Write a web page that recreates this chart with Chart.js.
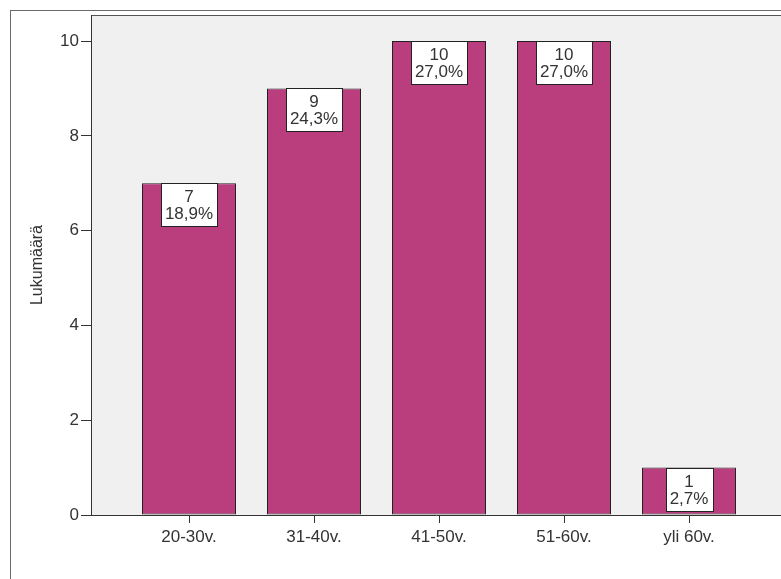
<!DOCTYPE html>
<html>
<head>
<meta charset="utf-8">
<script src="https://cdn.jsdelivr.net/npm/chart.js@4.4.1/dist/chart.umd.min.js"></script>
<style>
html, body { margin: 0; padding: 0; background: #fff; }
#wrap { width: 781px; height: 579px; }
</style>
</head>
<body>
<div id="wrap"><canvas id="ikaryhmat"></canvas></div>
<script>
// ikäryhmät, lukumäärät ja prosentit kuvasta
const ryhmat = ['20-30v.', '31-40v.', '41-50v.', '51-60v.', 'yli 60v.']
const lukumaarat = [7, 9, 10, 10, 1]
const prosentit = [18.9, 24.3, 27.0, 27.0, 2.7]
const yTicks = [0, 2, 4, 6, 8, 10]

const fontti = 'Arial, "Liberation Sans", sans-serif'
const tekstiVari = '#333'

// kehys ja harmaa tausta
const tausta = {
    id: 'tausta',
    beforeDraw(chart) {
        const ctx = chart.ctx
        const a = chart.chartArea
        ctx.save()
        ctx.fillStyle = '#fff'
        ctx.fillRect(0, 0, chart.width, chart.height)
        ctx.strokeStyle = '#6a6a6a'
        ctx.lineWidth = 1
        ctx.strokeRect(10.5, 10.5, chart.width + 20, chart.height + 20)
        ctx.fillStyle = '#f0f0f0'
        ctx.fillRect(a.left, a.top, a.right - a.left, a.bottom - a.top)
        ctx.strokeStyle = '#555'
        ctx.beginPath()
        ctx.moveTo(a.left, a.top + 0.5)
        ctx.lineTo(a.right, a.top + 0.5)
        ctx.stroke()
        ctx.restore()
    }
}

// valkoiset laatikot pylväiden päälle
const arvot = {
    id: 'arvot',
    afterDatasetsDraw(chart) {
        const ctx = chart.ctx
        const meta = chart.getDatasetMeta(0)
        ctx.save()
        ctx.font = '17px ' + fontti
        ctx.textAlign = 'center'
        ctx.textBaseline = 'middle'
        meta.data.forEach((bar, i) => {
            const r1 = String(lukumaarat[i])
            const r2 = prosentit[i].toFixed(1).replace('.', ',') + '%'
            const w = Math.round(Math.max(ctx.measureText(r1).width, ctx.measureText(r2).width) + 8)
            const h = 43
            const x = Math.round(bar.x - w / 2) + 0.5
            const y = Math.round(bar.y) + 0.5
            ctx.fillStyle = '#fff'
            ctx.fillRect(x, y, w, h)
            ctx.strokeStyle = '#222'
            ctx.lineWidth = 1
            ctx.strokeRect(x, y, w, h)
            ctx.fillStyle = tekstiVari
            ctx.fillText(r1, bar.x, y + 14)
            ctx.fillText(r2, bar.x, y + 31)
        })
        ctx.restore()
    }
}

new Chart(document.getElementById('ikaryhmat'), {
    type: 'bar',
    data: {
        datasets: [{
            label: 'Lukumäärä',
            data: lukumaarat.map((v, i) => ({ x: i, y: v })),
            backgroundColor: '#ba3d7e',
            borderColor: '#222',
            borderWidth: 1,
            borderSkipped: false,
            barPercentage: 0.752,
            categoryPercentage: 1
        }]
    },
    options: {
        responsive: true,
        maintainAspectRatio: false,
        animation: false,
        layout: { padding: { top: 15, right: 0, left: 0, bottom: 0 } },
        plugins: {
            legend: { display: false },
            tooltip: { enabled: false }
        },
        scales: {
            x: {
                type: 'linear',
                min: -0.784,
                max: 4.736,
                offset: false,
                afterFit(scale) { scale.height = 64 },
                afterBuildTicks(scale) {
                    scale.ticks = ryhmat.map((r, i) => ({ value: i }))
                },
                grid: {
                    offset: false,
                    drawOnChartArea: false,
                    color: '#333',
                    tickLength: 8,
                    tickColor: '#333'
                },
                border: { color: '#333', width: 1 },
                ticks: {
                    callback: (v) => ryhmat[v],
                    color: tekstiVari,
                    font: { size: 17, family: fontti },
                    padding: 4,
                    maxRotation: 0,
                    autoSkip: false
                }
            },
            y: {
                min: 0,
                max: 10.55,
                afterFit(scale) { scale.width = 91 },
                afterBuildTicks(scale) {
                    scale.ticks = yTicks.map(v => ({ value: v }))
                },
                grid: {
                    drawOnChartArea: false,
                    tickLength: 10,
                    tickColor: '#333'
                },
                border: { color: '#333', width: 1 },
                ticks: {
                    color: tekstiVari,
                    font: { size: 17, family: fontti },
                    padding: 2
                },
                title: {
                    display: true,
                    text: 'Lukumäärä',
                    color: tekstiVari,
                    font: { size: 16, family: fontti },
                    padding: { top: 28, bottom: 0 }
                }
            }
        }
    },
    plugins: [tausta, arvot]
})
</script>
</body>
</html>
